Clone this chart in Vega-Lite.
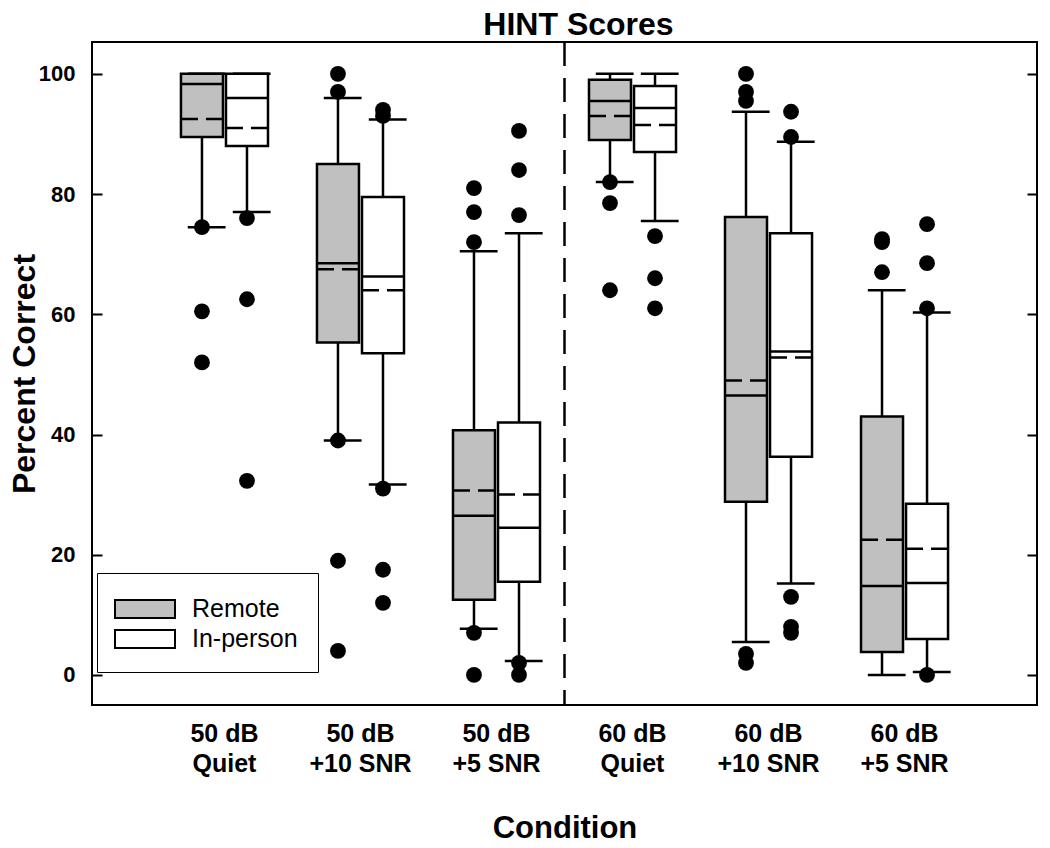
{
  "$schema": "https://vega.github.io/schema/vega-lite/v6.json",
  "width": 945,
  "height": 663,
  "autosize": {"type": "none"},
  "padding": {"left": 92, "top": 42, "right": 13, "bottom": 143},
  "background": "white",
  "config": {
    "view": {"stroke": "black", "strokeWidth": 2},
    "font": "Liberation Sans"
  },
  "title": {"text": "HINT Scores", "fontSize": 32, "fontWeight": "bold", "font": "Liberation Sans", "color": "black", "offset": -1, "dx": 14},
  "datasets": {
    "stats": [
      {"condition": "50 dB Quiet", "group": "Remote", "lo": 74.5, "q1": 89.5, "median": 98.3, "mean": 92.5, "q3": 100, "hi": 100},
      {"condition": "50 dB Quiet", "group": "In-person", "lo": 77, "q1": 88, "median": 96, "mean": 91, "q3": 100, "hi": 100},
      {"condition": "50 dB +10 SNR", "group": "Remote", "lo": 39, "q1": 55.3, "median": 68.5, "mean": 67.5, "q3": 85, "hi": 96},
      {"condition": "50 dB +10 SNR", "group": "In-person", "lo": 31.7, "q1": 53.5, "median": 66.3, "mean": 64, "q3": 79.5, "hi": 92.4},
      {"condition": "50 dB +5 SNR", "group": "Remote", "lo": 7.7, "q1": 12.5, "median": 26.5, "mean": 30.7, "q3": 40.7, "hi": 70.5},
      {"condition": "50 dB +5 SNR", "group": "In-person", "lo": 2.3, "q1": 15.5, "median": 24.5, "mean": 30, "q3": 42, "hi": 73.5},
      {"condition": "60 dB Quiet", "group": "Remote", "lo": 82, "q1": 89, "median": 95.5, "mean": 93, "q3": 99, "hi": 100},
      {"condition": "60 dB Quiet", "group": "In-person", "lo": 75.5, "q1": 87, "median": 94.3, "mean": 91.5, "q3": 98, "hi": 100},
      {"condition": "60 dB +10 SNR", "group": "Remote", "lo": 5.5, "q1": 28.8, "median": 46.5, "mean": 49, "q3": 76.2, "hi": 93.7},
      {"condition": "60 dB +10 SNR", "group": "In-person", "lo": 15.2, "q1": 36.3, "median": 53.8, "mean": 52.8, "q3": 73.5, "hi": 88.7},
      {"condition": "60 dB +5 SNR", "group": "Remote", "lo": 0, "q1": 3.8, "median": 14.8, "mean": 22.5, "q3": 43, "hi": 64},
      {"condition": "60 dB +5 SNR", "group": "In-person", "lo": 0.5, "q1": 6, "median": 15.3, "mean": 21, "q3": 28.5, "hi": 60.3}
    ],
    "outliers": [
      {"condition": "50 dB Quiet", "group": "Remote", "value": 74.5},
      {"condition": "50 dB Quiet", "group": "Remote", "value": 60.5},
      {"condition": "50 dB Quiet", "group": "Remote", "value": 52},
      {"condition": "50 dB Quiet", "group": "In-person", "value": 76},
      {"condition": "50 dB Quiet", "group": "In-person", "value": 62.5},
      {"condition": "50 dB Quiet", "group": "In-person", "value": 32.3},
      {"condition": "50 dB +10 SNR", "group": "Remote", "value": 100},
      {"condition": "50 dB +10 SNR", "group": "Remote", "value": 97},
      {"condition": "50 dB +10 SNR", "group": "Remote", "value": 39},
      {"condition": "50 dB +10 SNR", "group": "Remote", "value": 19},
      {"condition": "50 dB +10 SNR", "group": "Remote", "value": 4},
      {"condition": "50 dB +10 SNR", "group": "In-person", "value": 94},
      {"condition": "50 dB +10 SNR", "group": "In-person", "value": 93},
      {"condition": "50 dB +10 SNR", "group": "In-person", "value": 31},
      {"condition": "50 dB +10 SNR", "group": "In-person", "value": 17.5},
      {"condition": "50 dB +10 SNR", "group": "In-person", "value": 12},
      {"condition": "50 dB +5 SNR", "group": "Remote", "value": 81},
      {"condition": "50 dB +5 SNR", "group": "Remote", "value": 77},
      {"condition": "50 dB +5 SNR", "group": "Remote", "value": 72},
      {"condition": "50 dB +5 SNR", "group": "Remote", "value": 7},
      {"condition": "50 dB +5 SNR", "group": "Remote", "value": 0},
      {"condition": "50 dB +5 SNR", "group": "In-person", "value": 90.5},
      {"condition": "50 dB +5 SNR", "group": "In-person", "value": 84},
      {"condition": "50 dB +5 SNR", "group": "In-person", "value": 76.5},
      {"condition": "50 dB +5 SNR", "group": "In-person", "value": 2},
      {"condition": "50 dB +5 SNR", "group": "In-person", "value": 0},
      {"condition": "60 dB Quiet", "group": "Remote", "value": 82},
      {"condition": "60 dB Quiet", "group": "Remote", "value": 78.5},
      {"condition": "60 dB Quiet", "group": "Remote", "value": 64},
      {"condition": "60 dB Quiet", "group": "In-person", "value": 73},
      {"condition": "60 dB Quiet", "group": "In-person", "value": 66},
      {"condition": "60 dB Quiet", "group": "In-person", "value": 61},
      {"condition": "60 dB +10 SNR", "group": "Remote", "value": 100},
      {"condition": "60 dB +10 SNR", "group": "Remote", "value": 97},
      {"condition": "60 dB +10 SNR", "group": "Remote", "value": 95.5},
      {"condition": "60 dB +10 SNR", "group": "Remote", "value": 3.5},
      {"condition": "60 dB +10 SNR", "group": "Remote", "value": 2},
      {"condition": "60 dB +10 SNR", "group": "In-person", "value": 93.7},
      {"condition": "60 dB +10 SNR", "group": "In-person", "value": 89.5},
      {"condition": "60 dB +10 SNR", "group": "In-person", "value": 13},
      {"condition": "60 dB +10 SNR", "group": "In-person", "value": 8},
      {"condition": "60 dB +10 SNR", "group": "In-person", "value": 7},
      {"condition": "60 dB +5 SNR", "group": "Remote", "value": 72.5},
      {"condition": "60 dB +5 SNR", "group": "Remote", "value": 72},
      {"condition": "60 dB +5 SNR", "group": "Remote", "value": 67},
      {"condition": "60 dB +5 SNR", "group": "In-person", "value": 75},
      {"condition": "60 dB +5 SNR", "group": "In-person", "value": 68.5},
      {"condition": "60 dB +5 SNR", "group": "In-person", "value": 61},
      {"condition": "60 dB +5 SNR", "group": "In-person", "value": 0}
    ],
    "separator": [{"condition": "60 dB Quiet"}]
  },
  "encoding": {
    "x": {
      "field": "condition", "type": "nominal",
      "scale": {"domain": ["50 dB Quiet", "50 dB +10 SNR", "50 dB +5 SNR", "60 dB Quiet", "60 dB +10 SNR", "60 dB +5 SNR"], "paddingInner": 0, "paddingOuter": 0.474},
      "axis": {
        "title": "Condition", "titleFontSize": 31, "titleFontWeight": "bold", "titleFont": "Liberation Sans", "titleColor": "black", "titlePadding": 37,
        "labelExpr": "[slice(datum.label, 0, 5), slice(datum.label, 6)]",
        "labelAngle": 0, "labelFontSize": 25, "labelFontWeight": "bold", "labelFont": "Liberation Sans", "labelColor": "black",
        "labelLineHeight": 30, "labelPadding": 16, "ticks": false, "domain": false, "grid": false
      }
    },
    "xOffset": {"field": "group", "type": "nominal", "scale": {"domain": ["Remote", "In-person"], "paddingInner": 0.067, "paddingOuter": 0.544}}
  },
  "layer": [
    {
      "data": {"name": "stats"},
      "mark": {"type": "rule", "color": "black", "strokeWidth": 2.5},
      "encoding": {
        "y": {
          "field": "lo", "type": "quantitative",
          "scale": {"domain": [-5, 105.3], "nice": false, "zero": false},
          "axis": {
            "values": [0, 20, 40, 60, 80, 100], "title": "Percent Correct", "titleFontSize": 32, "titleFontWeight": "bold", "titleFont": "Liberation Sans", "titleColor": "black", "titlePadding": -3,
            "labelFontSize": 22, "labelFontWeight": "bold", "labelFont": "Liberation Sans", "labelColor": "black",
            "tickSize": -10, "tickWidth": 2, "tickColor": "black", "labelPadding": 27, "domain": false, "grid": false
          }
        },
        "y2": {"field": "hi"}
      }
    },
    {
      "data": {"name": "stats"},
      "mark": {"type": "bar", "stroke": "black", "strokeWidth": 2.5, "fillOpacity": 0, "width": {"band": 0.9}},
      "encoding": {"y": {"field": "lo", "type": "quantitative", "axis": null}, "y2": {"field": "lo"}}
    },
    {
      "data": {"name": "stats"},
      "mark": {"type": "bar", "stroke": "black", "strokeWidth": 2.5, "fillOpacity": 0, "width": {"band": 0.9}},
      "encoding": {"y": {"field": "hi", "type": "quantitative", "axis": null}, "y2": {"field": "hi"}}
    },
    {
      "data": {"name": "stats"},
      "mark": {"type": "bar", "stroke": "black", "strokeWidth": 2.5},
      "encoding": {
        "y": {"field": "q1", "type": "quantitative", "axis": null},
        "y2": {"field": "q3"},
        "fill": {
          "field": "group", "type": "nominal",
          "scale": {"domain": ["Remote", "In-person"], "range": ["#c0c0c0", "#ffffff"]},
          "legend": {
            "title": null, "orient": "none", "legendX": 5, "legendY": 531, "direction": "vertical",
            "strokeColor": "black", "padding": 20, "fillColor": "white",
            "symbolType": "M-1.2,-0.6H2.8V0.6H-1.2Z", "symbolSize": 900, "symbolStrokeColor": "black", "symbolStrokeWidth": 2, "symbolOpacity": 1,
            "labelFontSize": 25, "labelFont": "Liberation Sans", "labelColor": "black", "labelOffset": 43, "rowPadding": 1
          }
        }
      }
    },
    {
      "data": {"name": "stats"},
      "mark": {"type": "bar", "stroke": "black", "strokeWidth": 2.5, "fillOpacity": 0},
      "encoding": {"y": {"field": "median", "type": "quantitative", "axis": null}, "y2": {"field": "median"}}
    },
    {
      "data": {"name": "stats"},
      "mark": {"type": "bar", "stroke": "black", "strokeWidth": 2.5, "fillOpacity": 0, "strokeDash": [17, 8, 17, 0]},
      "encoding": {"y": {"field": "mean", "type": "quantitative", "axis": null}, "y2": {"field": "mean"}}
    },
    {
      "data": {"name": "outliers"},
      "mark": {"type": "point", "filled": true, "color": "black", "opacity": 1, "size": 250},
      "encoding": {
        "y": {
          "field": "value", "type": "quantitative",
          "axis": {"orient": "right", "values": [0, 20, 40, 60, 80, 100], "labels": false, "title": null, "tickSize": -10, "tickWidth": 2, "tickColor": "black", "domain": false, "grid": false}
        }
      }
    },
    {
      "data": {"name": "separator"},
      "mark": {"type": "rule", "color": "black", "strokeWidth": 2.5, "strokeDash": [24, 12]},
      "encoding": {
        "x": {"field": "condition", "type": "nominal", "bandPosition": 0},
        "xOffset": null
      }
    }
  ],
  "resolve": {"axis": {"y": "independent"}}
}
